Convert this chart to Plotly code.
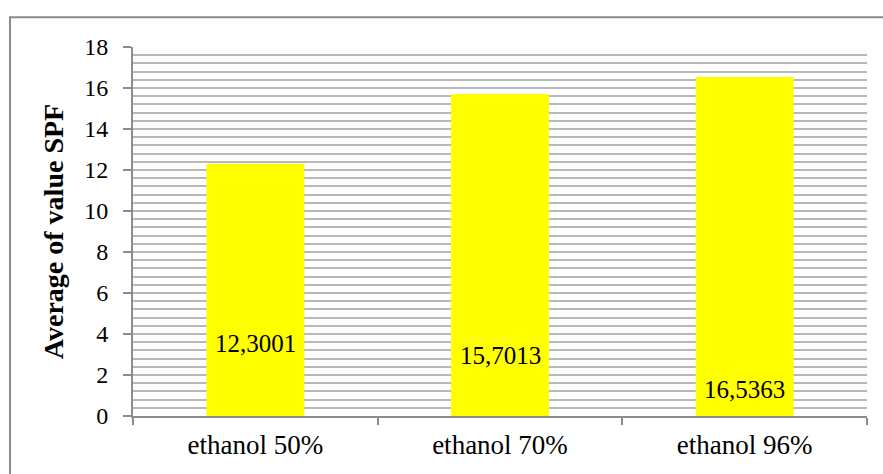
import plotly.graph_objects as go

# Mean SPF per extraction solvent
categories = ["ethanol 50%", "ethanol 70%", "ethanol 96%"]
spf_values = [12.3001, 15.7013, 16.5363]
label_texts = ["12,3001", "15,7013", "16,5363"]
label_heights = [3.56, 2.97, 1.27]
y_tick_values = [0, 2, 4, 6, 8, 10, 12, 14, 16, 18]

SERIF = "Liberation Serif"
GRID = "#b9b9b9"
AXIS = "#8c8c8c"

fig = go.Figure(
    go.Bar(
        x=categories,
        y=spf_values,
        marker=dict(color="#ffff00", line=dict(width=0)),
        hoverinfo="skip",
    )
)

for cat, h, txt in zip(categories, label_heights, label_texts):
    fig.add_annotation(
        x=cat, y=h, xref="x", yref="y", text=txt, showarrow=False,
        font=dict(family=SERIF, size=25, color="black"),
    )

# outer chart frame
fig.add_shape(
    type="rect", xref="paper", yref="paper",
    x0=-0.1676, y0=-0.2, x1=1.1, y1=1.0804,
    line=dict(color="#8a8a8a", width=2), layer="below",
)

fig.update_layout(
    width=883, height=474,
    margin=dict(l=133, r=16, t=47, b=58),
    paper_bgcolor="white", plot_bgcolor="white",
    bargap=0.6, showlegend=False,
    xaxis=dict(
        type="category", showgrid=False, showline=True, linecolor=AXIS, linewidth=2,
        ticks="outside", tickson="boundaries", ticklen=7, tickcolor=AXIS, tickwidth=2,
        tickfont=dict(family=SERIF, size=27, color="black"), ticklabelstandoff=4,
    ),
    yaxis=dict(
        range=[0, 18], tickvals=y_tick_values, showline=True, linecolor=AXIS, linewidth=2,
        showgrid=True, gridcolor=GRID, gridwidth=2, zeroline=False,
        ticks="outside", ticklen=8, tickcolor=AXIS, tickwidth=2,
        minor=dict(dtick=0.4, showgrid=True, gridcolor=GRID, gridwidth=2, ticks=""),
        tickfont=dict(family=SERIF, size=24, color="black"), ticklabelstandoff=10,
        title=dict(text="<b>Average of value SPF</b>", standoff=12,
                   font=dict(family=SERIF, size=28, color="black")),
    ),
)

fig.write_html("out.html")
